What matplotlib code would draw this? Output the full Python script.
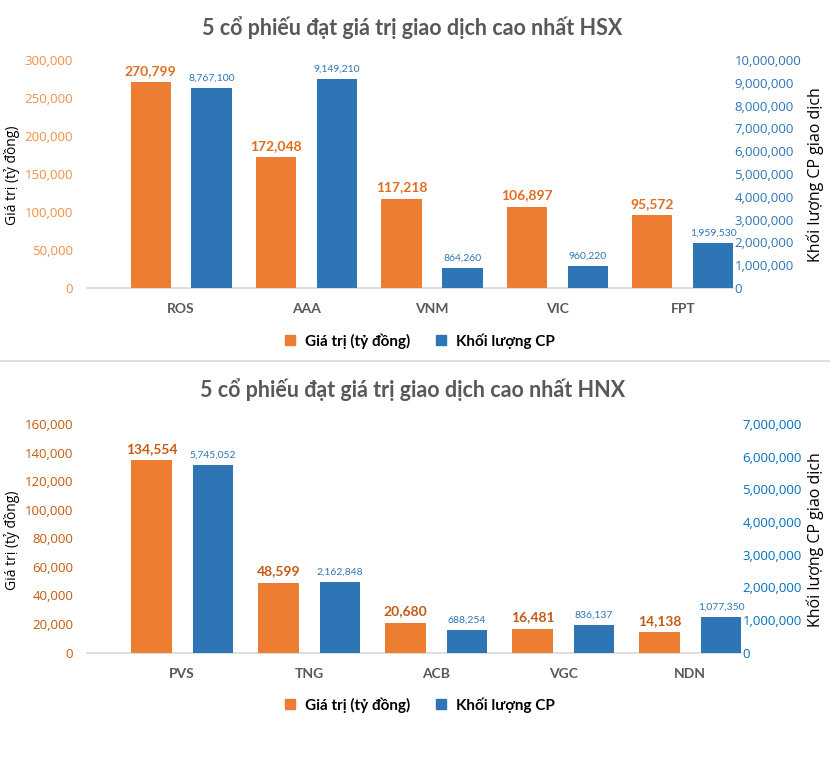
import matplotlib.pyplot as plt
from matplotlib.lines import Line2D
from matplotlib.ticker import FuncFormatter, MultipleLocator

# HSX
hsx_codes = ["ROS", "AAA", "VNM", "VIC", "FPT"]
hsx_value = [270799, 172048, 117218, 106897, 95572]
hsx_volume = [8767100, 9149210, 864260, 960220, 1959530]

# HNX
hnx_codes = ["PVS", "TNG", "ACB", "VGC", "NDN"]
hnx_value = [134554, 48599, 20680, 16481, 14138]
hnx_volume = [5745052, 2162848, 688254, 836137, 1077350]

ORANGE = "#ED7D31"
BLUE = "#2E75B6"
GRAY = "#595959"
NARROW = ["Lato", "DejaVu Sans"]

plt.rcParams["font.family"] = ["Open Sans", "DejaVu Sans"]

fmt = FuncFormatter(lambda v, p: f"{int(v):,}")
FW, FH = 830, 757


def draw(fig, rect, title, title_y, codes, values, volumes, vmax, vstep, wmax, wstep,
         left_tick_color, value_lab_color, right_tick_color, legend_y, ylab_px):
    ax = fig.add_axes(rect)
    ax2 = ax.twinx()
    x = range(len(codes))
    xo = [i - 0.243 for i in x]
    xb = [i + 0.243 for i in x]
    w = 0.32
    bo = ax.bar(xo, values, width=w, color=ORANGE, zorder=3)
    bb = ax2.bar(xb, volumes, width=w, color=BLUE, zorder=3)

    ax.set_xlim(-0.75, 4.4)
    ax.set_ylim(0, vmax)
    ax2.set_ylim(0, wmax)
    ax.yaxis.set_major_locator(MultipleLocator(vstep))
    ax2.yaxis.set_major_locator(MultipleLocator(wstep))
    ax.yaxis.set_major_formatter(fmt)
    ax2.yaxis.set_major_formatter(fmt)

    for a in (ax, ax2):
        for s in a.spines.values():
            s.set_visible(False)
    ax.spines["bottom"].set_visible(True)
    ax.spines["bottom"].set_color("#D9D9D9")
    ax.spines["bottom"].set_linewidth(1.2)

    ax.tick_params(axis="y", length=0, colors=left_tick_color, labelsize=9.5, pad=10)
    ax2.tick_params(axis="y", length=0, colors=right_tick_color, labelsize=9.5, pad=1)
    ax.tick_params(axis="x", length=0, pad=11)
    ax.set_xticks(list(x))
    ax.set_xticklabels(codes, fontsize=10, fontweight="bold", color=GRAY, family=NARROW)

    # axis titles placed by pixel position
    x0, y0, wd, ht = rect
    yl = (1 - ylab_px / FH - y0) / ht
    ax.set_ylabel("Giá trị (tỷ đồng)", fontsize=10, color="black")
    ax.yaxis.set_label_coords((20 / FW - x0) / wd, yl)
    ax2.set_ylabel("Khối lượng CP giao dịch", fontsize=11.5, color="black")
    ax2.yaxis.set_label_coords((806 / FW - x0) / wd, yl)

    for r, v in zip(bo, values):
        ax.annotate(f"{v:,}", (r.get_x() + r.get_width() / 2, r.get_height()),
                    xytext=(0, 4), textcoords="offset points", ha="center", va="bottom",
                    fontsize=10, fontweight="bold", color=value_lab_color, family=NARROW)
    for r, v in zip(bb, volumes):
        ax2.annotate(f"{v:,}", (r.get_x() + r.get_width() / 2, r.get_height()),
                     xytext=(0, 4), textcoords="offset points", ha="center", va="bottom",
                     fontsize=7.5, color=BLUE, family=NARROW)

    fig.text(0.497, title_y, title, ha="center", va="center", fontsize=15.5,
             fontweight="bold", color=GRAY, family=NARROW)

    handles = [Line2D([], [], marker="s", ls="none", markersize=7, color=ORANGE),
               Line2D([], [], marker="s", ls="none", markersize=7, color=BLUE)]
    fig.legend(handles, ["Giá trị (tỷ đồng)", "Khối lượng CP"], loc="center",
               bbox_to_anchor=(0.5, legend_y), ncol=2, frameon=False,
               handletextpad=0.0, columnspacing=1.0,
               prop={"family": NARROW, "size": 11, "weight": "bold"})


fig = plt.figure(figsize=(8.3, 7.57), dpi=100)

draw(fig, [87 / FW, 1 - 288 / FH, 646 / FW, 228 / FH],
     "5 cổ phiếu đạt giá trị giao dịch cao nhất HSX", 1 - 28 / FH,
     hsx_codes, hsx_value, hsx_volume, 300000, 50000, 10000000, 1000000,
     "#F0904A", "#E46C1E", BLUE, 1 - 341 / FH, 175)

draw(fig, [87 / FW, 1 - 652.5 / FH, 654 / FW, 228.5 / FH],
     "5 cổ phiếu đạt giá trị giao dịch cao nhất HNX", 1 - 390 / FH,
     hnx_codes, hnx_value, hnx_volume, 160000, 20000, 7000000, 1000000,
     "#C55A11", "#C55A11", "#0070C0", 1 - 705 / FH, 540)

fig.add_artist(Line2D([0, 1], [1 - 361 / FH, 1 - 361 / FH], color="#D9D9D9", lw=1.2))

fig.savefig("out.png", dpi=100, facecolor="white")
